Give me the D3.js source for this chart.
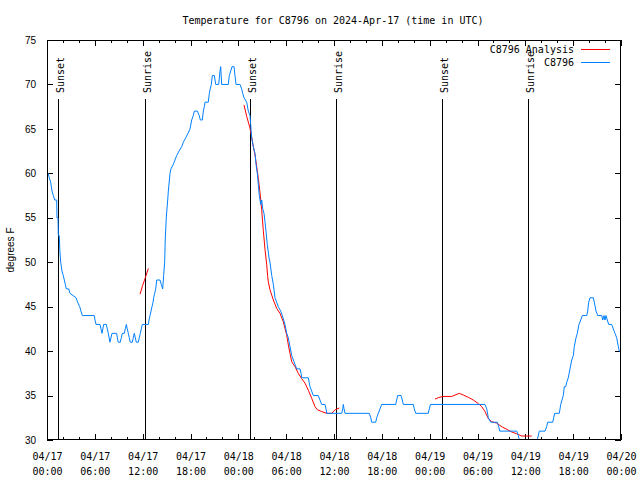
<!DOCTYPE html>
<html><head><meta charset="utf-8">
<script src="https://cdn.jsdelivr.net/npm/d3@7"></script>
<style>
html,body{margin:0;padding:0;background:#fff;}
svg{display:block;}
</style></head>
<body>
<svg id="chart" width="640" height="480"></svg>
<script>
// ---- data (hours after 2024-04-17 00:00 UTC, degrees F) ----
const observed = [[0,60],[0.13,60],[0.29,59.5],[0.46,59],[0.63,58],[0.79,57.5],[0.97,57],[1.22,57],[1.25,55],[1.38,55],[1.42,53],[1.54,53],[1.63,51],[1.72,50],[1.88,49],[2.04,48.5],[2.17,48],[2.30,47.5],[2.42,47],[2.72,47],[2.89,46.5],[3.64,46],[3.85,45.5],[4.10,45],[4.26,44.5],[4.43,44],[5.93,44],[6.02,43.5],[6.15,43],[6.65,43],[6.77,42.5],[6.90,42],[7.11,43],[7.44,43],[7.56,42.5],[7.69,42],[7.90,41],[8.15,42],[8.74,42],[8.82,41.5],[8.94,41],[9.19,41],[9.32,41.5],[9.45,42],[9.70,42],[9.82,42.5],[9.95,43],[10.07,42.5],[10.20,42],[10.32,41.5],[10.45,41],[10.70,41],[10.83,41.5],[10.95,42],[11.08,41.5],[11.20,41],[11.45,41],[11.58,41.5],[11.70,42],[11.83,42.5],[11.95,43],[12.71,43],[12.80,43.5],[12.92,44],[13.05,44.5],[13.17,45],[13.30,45.5],[13.38,46],[13.51,46.5],[13.64,47],[13.76,48],[14.17,48],[14.34,47.5],[14.51,47],[14.63,48.5],[14.76,50],[14.83,52.5],[14.96,55],[15.14,57],[15.22,58],[15.43,60],[15.55,60.5],[15.84,61],[16.05,61.5],[16.27,62],[16.56,62.5],[16.90,63],[17.10,63.5],[17.40,64],[17.69,64.5],[17.94,65],[18.15,66],[18.35,66.5],[18.48,67],[18.85,67],[19.10,66.5],[19.23,66],[19.48,66],[19.61,67],[19.73,67.5],[19.82,68],[20.23,68],[20.36,69],[20.48,69.5],[20.61,70],[20.74,71],[20.99,71],[21.16,70],[21.54,70],[21.70,71.5],[21.79,72],[21.91,70],[22.74,70],[22.87,71],[23.04,71.5],[23.21,72],[23.46,72],[23.58,71],[23.71,70],[24.21,70],[24.42,69.5],[24.55,69],[24.71,68.5],[25.05,68],[25.25,67],[25.46,66.5],[25.55,65.5],[25.67,64],[25.88,63],[26.09,62.25],[26.22,61],[26.38,60],[26.51,58.7],[26.63,57.5],[26.81,56.5],[26.93,57],[27.06,56],[27.22,55.5],[27.35,54.5],[27.47,53.5],[27.63,52],[27.85,50.5],[27.97,50],[28.19,48.5],[28.39,47.5],[28.60,46],[28.81,45.5],[29.01,45],[29.31,44.5],[29.52,44],[29.85,43],[30.07,42],[30.27,41.5],[30.48,40.5],[30.70,39.5],[30.90,39],[31.11,38.5],[31.32,38],[31.74,38],[31.87,37.5],[31.95,37],[32.78,37],[32.99,36],[33.20,35.5],[33.41,35],[34.03,35],[34.24,34.5],[34.46,34],[34.87,34],[35.00,33.5],[35.09,33],[36.97,33],[37.09,33.5],[37.17,34],[37.26,33.5],[37.38,33],[40.43,33],[40.61,32.5],[40.73,32],[41.23,32],[41.36,32.5],[41.56,33],[41.77,33.5],[41.98,34],[43.74,34],[43.86,34.5],[43.99,35],[44.41,35],[44.57,34.5],[44.69,34],[45.95,34],[46.07,33.5],[46.25,33],[47.83,33],[47.95,33.5],[48.10,34],[54.94,34],[55.16,33.5],[55.36,32.5],[55.66,32],[56.49,32],[56.66,31.5],[56.79,31],[58.92,31],[59.12,30.5],[59.25,30],[59.37,29.5],[61.34,29.5],[61.50,30],[61.75,31],[62.47,31],[62.68,31.5],[62.80,32],[63.43,32],[63.56,32.5],[63.68,33],[64.26,33],[64.44,34],[64.60,34.5],[64.76,35],[64.89,36],[65.07,36],[65.19,36.5],[65.39,37],[65.60,38],[65.82,39],[66.02,39.5],[66.14,40.5],[66.36,41.5],[66.52,42],[66.73,43],[66.95,43.5],[67.15,44],[67.70,44],[67.82,44.5],[67.95,45.5],[68.11,46],[68.53,46],[68.65,45.5],[68.87,44.5],[69.08,44],[69.58,44],[69.71,43.5],[69.87,44],[69.99,43.5],[70.12,44],[70.28,43.5],[70.46,43],[70.83,43],[71.03,42.5],[71.25,42],[71.46,41.5],[71.67,40.5],[71.79,40],[72,40]];

const analysis1 = [[11.67,46.4],[12.00,47.4],[12.35,48.3],[12.71,49.3]];
const analysis2 = [[24.71,67.7],[25.05,66.4],[25.46,65.1],[25.67,64.1],[25.88,63],[26.09,62.1],[26.30,60.8],[26.51,59.4],[26.72,57.8],[26.93,55.9],[27.13,53.6],[27.35,51.4],[27.56,49.7],[27.68,48.4],[27.76,47.8],[27.97,46.9],[28.19,46.3],[28.39,45.75],[28.81,44.8],[29.23,44.25],[29.64,43.3],[30.07,41.8],[30.27,40.7],[30.48,39.75],[30.70,38.8],[31.11,38.25],[31.52,37.5],[31.95,36.9],[32.36,36.4],[32.78,35.6],[33.20,34.7],[33.62,33.75],[33.91,33.4],[34.46,33.2],[35.09,33],[35.71,33],[36.13,33.4],[36.67,33.6]];
const analysis3 = [[48.67,34.6],[49.08,34.76],[49.64,34.9],[50.77,34.9],[51.18,35.06],[51.72,35.25],[52.22,35.06],[52.85,34.8],[53.47,34.5],[54.10,34.1],[54.53,33.75],[54.94,33.2],[55.36,32.4],[55.78,32.06],[56.41,31.9],[57.04,31.5],[57.67,31.2],[58.30,30.9],[58.92,30.7],[59.55,30.45],[60.80,30.45]];

const sunEvents = [["Sunset",1.42],["Sunrise",12.33],["Sunset",25.51],["Sunrise",36.29],["Sunset",49.59],["Sunrise",60.38]];
const yTicks = [30,35,40,45,50,55,60,65,70,75];
const seriesNames = ["C8796 Analysis","C8796"];
const seriesColors = ["#ff0000","#0080ff"];
const titleText = "Temperature for C8796 on 2024-Apr-17 (time in UTC)";
const yLabel = "degrees F";

// ---- drawing ----
const T0 = Date.UTC(2024,3,17);
const toDate = h => new Date(T0 + h*3600e3);
const mono = "'DejaVu Sans Mono', monospace";
const sans = "'Liberation Sans', Arial, sans-serif";

const L=47, R=621, TOP=40, BOT=440;
const svg = d3.select("#chart");
const x = d3.scaleUtc().domain([toDate(0), toDate(72)]).range([L,R]);
const y = d3.scaleLinear().domain([30,75]).range([BOT,TOP]);

svg.append("defs").append("clipPath").attr("id","clip")
  .append("rect").attr("x",L).attr("y",TOP).attr("width",R-L).attr("height",BOT-TOP);

// title
svg.append("text").attr("x",333).attr("y",24).attr("text-anchor","middle")
  .attr("font-family",mono).attr("font-size",10).text(titleText);

// y label
svg.append("text").attr("transform","translate(14,250) rotate(-90)")
  .attr("text-anchor","middle").attr("font-family",sans).attr("font-size",10).text(yLabel);

// axes
const majorTicks = d3.utcHour.every(6).range(toDate(0), toDate(72.01));
const minorTicks = d3.utcHour.every(2).range(toDate(0), toDate(72.01));

function styleAxis(g){
  g.select(".domain").remove();
  g.selectAll("line").attr("stroke","#000").attr("shape-rendering","crispEdges");
}
svg.append("g").attr("transform",`translate(${L},0)`)
  .call(d3.axisLeft(y).tickValues(yTicks).tickSizeInner(-6).tickSizeOuter(0).tickPadding(11))
  .call(styleAxis)
  .call(g=>g.selectAll("text").attr("font-family",sans).attr("font-size",10).attr("fill","#000"));
svg.append("g").attr("transform",`translate(${R},0)`)
  .call(d3.axisRight(y).tickValues(yTicks).tickSizeInner(-6).tickSizeOuter(0).tickFormat(""))
  .call(styleAxis);
// minor x ticks
svg.append("g").attr("transform",`translate(0,${BOT})`)
  .call(d3.axisBottom(x).tickValues(minorTicks).tickSizeInner(-3).tickSizeOuter(0).tickFormat(""))
  .call(styleAxis);
svg.append("g").attr("transform",`translate(0,${TOP})`)
  .call(d3.axisTop(x).tickValues(minorTicks).tickSizeInner(-3).tickSizeOuter(0).tickFormat(""))
  .call(styleAxis);
// major x ticks with labels
const fmtD = d3.utcFormat("%m/%d"), fmtT = d3.utcFormat("%H:%M");
svg.append("g").attr("transform",`translate(0,${BOT})`)
  .call(d3.axisBottom(x).tickValues(majorTicks).tickSizeInner(-6).tickSizeOuter(0).tickFormat(""))
  .call(styleAxis)
  .call(g=>{
    g.selectAll(".tick text").attr("y",0).attr("dy",null)
      .attr("font-family",mono).attr("font-size",10).attr("fill","#000")
      .each(function(d){
        const t=d3.select(this);
        t.append("tspan").attr("x",0).attr("y",20).text(fmtD(d));
        t.append("tspan").attr("x",0).attr("y",35).text(fmtT(d));
      });
  });
svg.append("g").attr("transform",`translate(0,${TOP})`)
  .call(d3.axisTop(x).tickValues(majorTicks).tickSizeInner(-6).tickSizeOuter(0).tickFormat(""))
  .call(styleAxis);

// sun lines
const sunG = svg.append("g");
sunEvents.forEach(([name,h])=>{
  const px = Math.round(x(toDate(h)))+0.5;
  sunG.append("line").attr("x1",px).attr("x2",px).attr("y1",99).attr("y2",BOT)
    .attr("stroke","#000").attr("stroke-width",1).attr("shape-rendering","crispEdges");
  sunG.append("text").attr("transform",`translate(${px+5},93) rotate(-90)`)
    .attr("text-anchor","start").attr("font-family",mono).attr("font-size",10).text(name);
});

// series
const line = d3.line().x(d=>x(toDate(d[0]))).y(d=>y(d[1]));
const plot = svg.append("g").attr("clip-path","url(#clip)");
[analysis1,analysis2,analysis3].forEach(seg=>{
  plot.append("path").datum(seg).attr("d",line).attr("fill","none")
    .attr("stroke",seriesColors[0]).attr("stroke-width",1);
});
plot.append("path").datum(observed).attr("d",line).attr("fill","none")
  .attr("stroke",seriesColors[1]).attr("stroke-width",1);

// legend
seriesNames.forEach((n,i)=>{
  const ly = 49.5 + i*13;
  svg.append("text").attr("x",574).attr("y",ly+3.5).attr("text-anchor","end")
    .attr("font-family",mono).attr("font-size",10).text(n);
  svg.append("line").attr("x1",581).attr("x2",610).attr("y1",ly).attr("y2",ly)
    .attr("stroke",seriesColors[i]).attr("stroke-width",1).attr("shape-rendering","crispEdges");
});

// frame
svg.append("rect").attr("x",L+0.5).attr("y",TOP+0.5).attr("width",R-L-1).attr("height",BOT-TOP-1)
  .attr("fill","none").attr("stroke","#000").attr("shape-rendering","crispEdges");
</script>
</body></html>
